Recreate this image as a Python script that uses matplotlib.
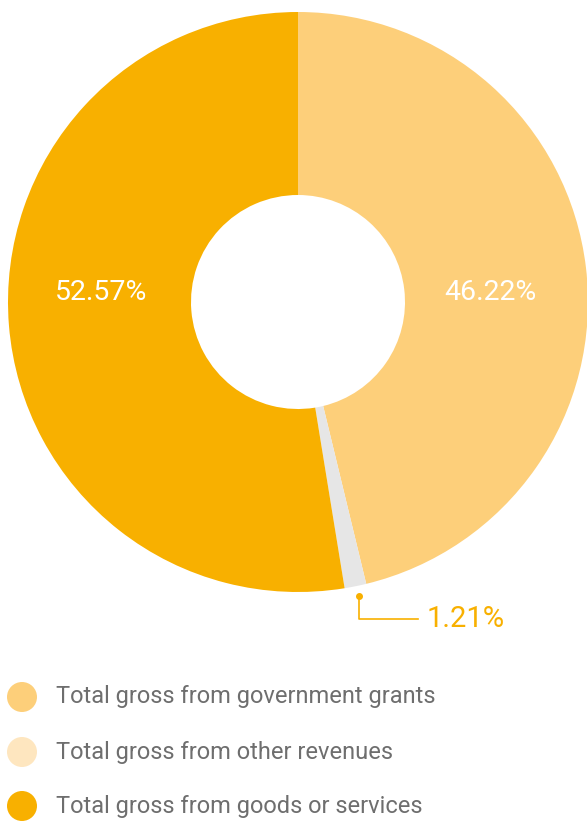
import matplotlib
matplotlib.use("Agg")
import matplotlib.pyplot as plt
from matplotlib.patches import Circle

categories = ["Total gross from government grants",
              "Total gross from other revenues",
              "Total gross from goods or services"]
values = [46.22, 1.21, 52.57]
slice_colors = ["#FDCF7A", "#E6E6E6", "#F8B000"]
legend_colors = ["#FDCF7A", "#FEE6BF", "#F8B000"]

W, H = 587, 824
fig = plt.figure(figsize=(W / 100, H / 100), dpi=100)
ax = fig.add_axes([0, 0, 1, 1])

cx, cy = 298, H - 302
R, r_in = 290, 107
ax.pie(values, colors=slice_colors, startangle=90, counterclock=False,
       center=(cx, cy), radius=R, frame=True,
       wedgeprops=dict(width=R - r_in, linewidth=0))
ax.set_xlim(0, W)
ax.set_ylim(0, H)
ax.set_aspect("equal")
ax.axis("off")

font = "Roboto"
ax.text(490, H - 292, f"{values[0]:.2f}%", color="white", fontsize=20.5,
        ha="center", va="center", family=font, fontweight="normal")
ax.text(101, H - 292, f"{values[2]:.2f}%", color="white", fontsize=20.5,
        ha="center", va="center", family=font, fontweight="normal")

# leader for small slice
ax.plot([359, 359, 418], [H - 596, H - 619, H - 619], color="#F8B000", lw=1.2)
ax.plot([359], [H - 596], "o", color="#F8B000", ms=4)
ax.text(427, H - 619, f"{values[1]:.2f}%", color="#F8B000", fontsize=21,
        ha="left", va="center", family=font, fontweight="normal")

ys = [697, 752, 806]
for lab, col, y in zip(categories, legend_colors, ys):
    ax.add_patch(Circle((22, H - y), 15, color=col, lw=0))
    ax.text(56, H - y, lab, color="#6E6E6E", fontsize=17,
            ha="left", va="center", family=font)

fig.savefig("out.png", dpi=100)
